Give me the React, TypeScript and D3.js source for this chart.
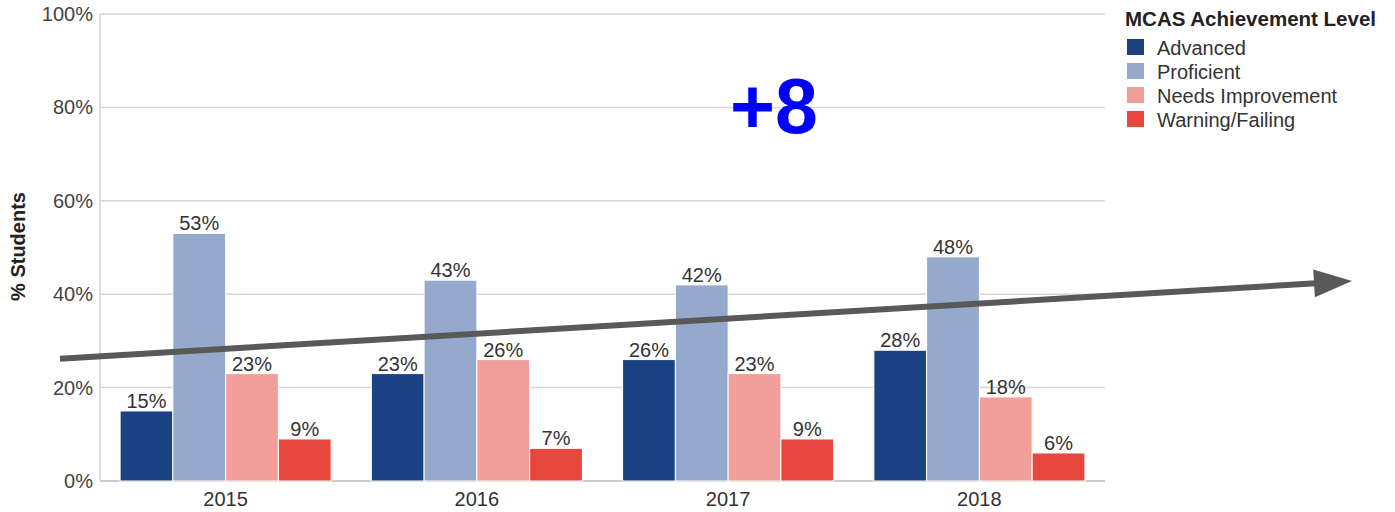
import React from 'react';
import * as d3 from 'd3';

const years = ['2015', '2016', '2017', '2018'];
const levels = ['Advanced', 'Proficient', 'Needs Improvement', 'Warning/Failing'];
const advanced = [15, 23, 26, 28];
const proficient = [53, 43, 42, 48];
const needsImprovement = [23, 26, 23, 18];
const warningFailing = [9, 7, 9, 6];
const yTicks = [0, 20, 40, 60, 80, 100];
const colors = ['#1b4282', '#95a9cc', '#f29f9b', '#e8473e'];
// trend arrow annotation, in % of the y axis
const trendStart = 26.2;
const trendEnd = 42.8;

const width = 1395;
const height = 512;
const margin = { top: 14, right: 290, bottom: 31, left: 100 };
const font = 'Arial, "Liberation Sans", sans-serif';

const App = () => {
  const series = [advanced, proficient, needsImprovement, warningFailing];
  const innerRight = width - margin.right;
  const innerBottom = height - margin.bottom;

  const x0 = d3
    .scaleBand()
    .domain(years)
    .range([margin.left, innerRight])
    .paddingInner(0.16)
    .paddingOuter(0.08);
  const x1 = d3.scaleBand().domain(levels).range([0, x0.bandwidth()]);
  const y = d3.scaleLinear().domain([0, 100]).range([innerBottom, margin.top]);

  const arrowX0 = 60;
  const arrowX1 = 1352;
  const ay0 = y(trendStart);
  const ay1 = y(trendEnd);
  const ang = Math.atan2(ay1 - ay0, arrowX1 - arrowX0);
  const headLen = 38;
  const headHalf = 14;
  const bx = arrowX1 - headLen * Math.cos(ang);
  const by = ay1 - headLen * Math.sin(ang);
  const px = -Math.sin(ang) * headHalf;
  const py = Math.cos(ang) * headHalf;

  return (
    <svg width={width} height={height} style={{ position: 'absolute', left: 0, top: 0 }} fontFamily={font}>
      <rect width={width} height={height} fill="#fff" />
      {yTicks.map(t => (
        <g key={t}>
          <line x1={margin.left} x2={innerRight} y1={y(t)} y2={y(t)} stroke={t === 0 ? '#bbb' : '#d6d6d6'} strokeWidth={1.5} />
          <text x={margin.left - 7} y={y(t)} dy="0.35em" textAnchor="end" fontSize={20} fill="#444">
            {t}%
          </text>
        </g>
      ))}
      <line x1={margin.left} x2={margin.left} y1={margin.top} y2={innerBottom} stroke="#d6d6d6" strokeWidth={1.5} />
      <text
        transform={`translate(25,${(margin.top + innerBottom) / 2 - 1}) rotate(-90)`}
        textAnchor="middle"
        fontSize={20}
        fontWeight="bold"
        fill="#222"
      >
        % Students
      </text>
      {years.map((yr, i) => (
        <g key={yr} transform={`translate(${x0(yr)},0)`}>
          {levels.map((lv, j) => {
            const v = series[j][i];
            const bx0 = x1(lv) as number;
            return (
              <g key={lv}>
                <rect
                  x={bx0}
                  y={y(v)}
                  width={x1.bandwidth()}
                  height={innerBottom - y(v)}
                  fill={colors[j]}
                  stroke="#fff"
                  strokeWidth={1}
                />
                <text x={bx0 + x1.bandwidth() / 2} y={y(v) - 3} textAnchor="middle" fontSize={20} fill="#333">
                  {v}%
                </text>
              </g>
            );
          })}
          <text x={x0.bandwidth() / 2} y={innerBottom + 25} textAnchor="middle" fontSize={20} fill="#333">
            {yr}
          </text>
        </g>
      ))}
      <text x={774} y={133} textAnchor="middle" fontSize={77} fontWeight="bold" fill="#0000ff">
        +8
      </text>
      <line x1={arrowX0} y1={ay0} x2={bx + 2 * Math.cos(ang)} y2={by + 2 * Math.sin(ang)} stroke="#595959" strokeWidth={6} />
      <polygon
        points={`${arrowX1},${ay1} ${bx + px},${by + py} ${bx - px},${by - py}`}
        fill="#595959"
      />
      <text x={1125} y={26} fontSize={20.5} fontWeight="bold" fill="#222">
        MCAS Achievement Level
      </text>
      {levels.map((lv, j) => (
        <g key={lv} transform={`translate(1127,${39 + j * 24})`}>
          <rect width={17} height={16} fill={colors[j]} />
          <text x={30} y={16} fontSize={20} fill="#333">
            {lv}
          </text>
        </g>
      ))}
    </svg>
  );
};

export default App;
